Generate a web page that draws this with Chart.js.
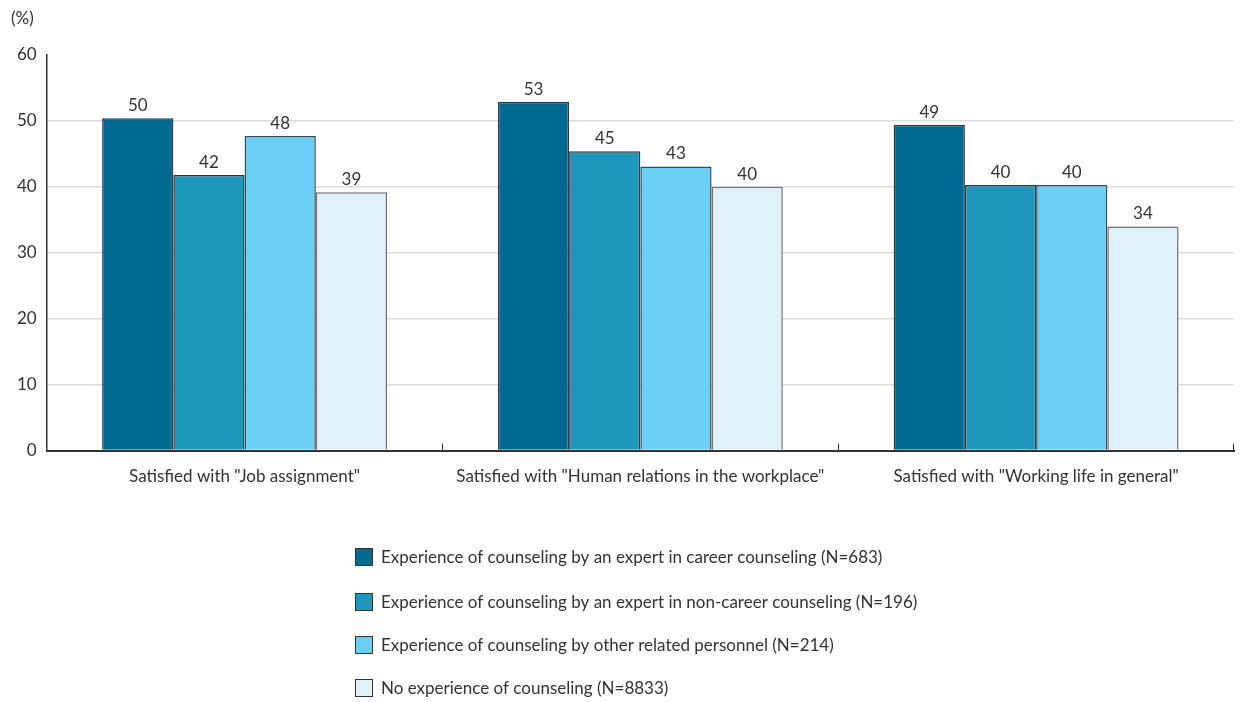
<!DOCTYPE html>
<html>
<head>
<meta charset="utf-8">
<script src="https://cdn.jsdelivr.net/npm/chart.js@4/dist/chart.umd.min.js"></script>
<style>
html,body{margin:0;padding:0;background:#fff;}
#wrap{width:1243px;height:702px;position:relative;}
</style>
</head>
<body>
<div id="wrap"><canvas id="c" width="1243" height="702"></canvas></div>
<script>
const categories = ['Satisfied with "Job assignment"', 'Satisfied with "Human relations in the workplace"', 'Satisfied with "Working life in general"'];
const seriesNames = [
  'Experience of counseling by an expert in career counseling (N=683)',
  'Experience of counseling by an expert in non-career counseling (N=196)',
  'Experience of counseling by other related personnel (N=214)',
  'No experience of counseling (N=8833)'
];
const careerExpert = [50.4, 52.9, 49.4];
const nonCareerExpert = [41.8, 45.4, 40.3];
const otherPersonnel = [47.7, 43.1, 40.3];
const noCounseling = [39.2, 40.0, 34.0];
const yTicks = [0, 10, 20, 30, 40, 50, 60];

const colors = ['#006990', '#1f97bd', '#6bcff5', '#dff2fa'];
const borders = ['#2b3a44', '#2b3a44', '#3a4a55', '#707070'];
const FONT = 'Lato, "Noto Sans", sans-serif';
const FS = 17;
const TXT = '#333';

const seriesData = [careerExpert, nonCareerExpert, otherPersonnel, noCounseling];

const labelPlugin = {
  id: 'valueLabels',
  afterDatasetsDraw(chart) {
    const ctx = chart.ctx;
    ctx.save();
    ctx.font = FS + 'px ' + FONT;
    ctx.fillStyle = TXT;
    ctx.textAlign = 'center';
    ctx.textBaseline = 'bottom';
    chart.data.datasets.forEach((ds, di) => {
      const meta = chart.getDatasetMeta(di);
      meta.data.forEach((bar, i) => {
        ctx.fillText(String(Math.round(ds.data[i])), bar.x, bar.y - 4);
      });
    });
    const xs = chart.scales.x, ys = chart.scales.y;
    const base = ys.getPixelForValue(0);
    ctx.strokeStyle = '#333';
    ctx.lineWidth = 1;
    for (let i = 1; i < categories.length; i++) {
      const x = Math.round((xs.getPixelForValue(i - 1) + xs.getPixelForValue(i)) / 2) + 0.5;
      ctx.beginPath(); ctx.moveTo(x, base); ctx.lineTo(x, base - 7); ctx.stroke();
    }
    const xr = Math.round(chart.chartArea.right) - 0.5;
    ctx.beginPath(); ctx.moveTo(xr, base); ctx.lineTo(xr, base - 7); ctx.stroke();
    ctx.restore();
  },
  afterDraw(chart) {
    const ctx = chart.ctx;
    ctx.save();
    ctx.font = FS + 'px ' + FONT;
    ctx.textBaseline = 'middle';
    ctx.textAlign = 'left';
    const x0 = 355, ys = [557, 602, 645, 688];
    chart.data.datasets.forEach((ds, i) => {
      ctx.fillStyle = ds.backgroundColor;
      ctx.fillRect(x0 + 0.5, ys[i] - 8.5, 17, 17);
      ctx.strokeStyle = '#333';
      ctx.lineWidth = 1;
      ctx.strokeRect(x0 + 0.5, ys[i] - 8.5, 17, 17);
      ctx.fillStyle = TXT;
      ctx.fillText(ds.label, x0 + 26, ys[i] + 1);
    });
    ctx.fillText('(%)', 11, 19);
    ctx.restore();
  }
};

new Chart(document.getElementById('c'), {
  type: 'bar',
  data: {
    labels: categories,
    datasets: seriesNames.map((n, i) => ({
      label: n,
      data: seriesData[i],
      backgroundColor: colors[i],
      borderColor: borders[i],
      borderWidth: 1.5,
      borderSkipped: 'bottom',
      categoryPercentage: 0.72,
      barPercentage: 1.0
    }))
  },
  options: {
    responsive: false,
    animation: false,
    devicePixelRatio: 1,
    layout: { padding: { left: 7, right: 9, top: 55, bottom: 199 } },
    plugins: {
      legend: { display: false },
      tooltip: { enabled: false }
    },
    scales: {
      x: {
        grid: { display: false, drawTicks: false },
        border: { display: true, color: '#333', width: 2 },
        ticks: { color: TXT, font: { size: FS, family: FONT }, padding: 16, maxRotation: 0 }
      },
      y: {
        min: 0, max: 60,
        afterBuildTicks(scale) { scale.ticks = yTicks.map(v => ({ value: v })); },
        grid: {
          color: ctx => (ctx.tick && (ctx.tick.value === 0 || ctx.tick.value === 60)) ? 'rgba(0,0,0,0)' : '#dddddd',
          lineWidth: 1.5,
          drawTicks: false
        },
        border: { display: true, color: '#333', width: 1.5 },
        ticks: { color: TXT, font: { size: FS, family: FONT }, padding: 10 }
      }
    }
  },
  plugins: [labelPlugin]
});
</script>
</body>
</html>
